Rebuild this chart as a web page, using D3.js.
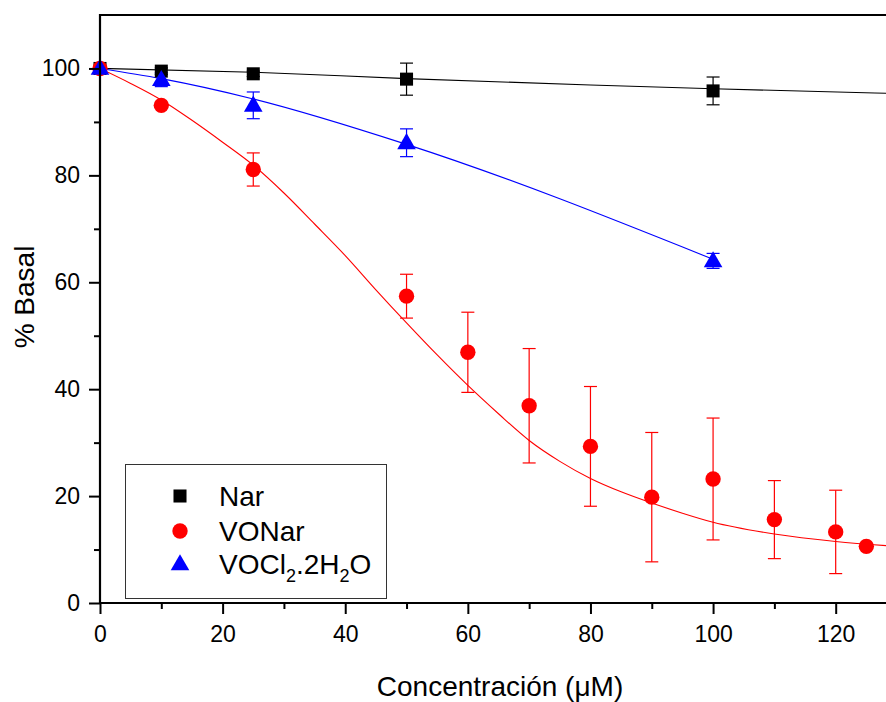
<!DOCTYPE html>
<html>
<head>
<meta charset="utf-8">
<script src="https://cdn.jsdelivr.net/npm/d3@7"></script>
<style>
  body { margin: 0; background: #fff; }
  svg { display: block; font-family: Arial, "Liberation Sans", sans-serif; }
</style>
</head>
<body>
<svg id="chart" width="886" height="702"></svg>
<script>
// ---- data ----
const narX = [0, 10, 25, 50, 100];
const narY = [100, 99.5, 99, 98, 95.8];
const narErr = [0, 0.6, 0.5, 3.0, 2.6];

const voNarX = [0, 10, 25, 50, 60, 70, 80, 90, 100, 110, 120, 125];
const voNarY = [100, 93.1, 81.1, 57.4, 46.9, 36.9, 29.3, 19.8, 23.2, 15.6, 13.3, 10.6];
const voNarErr = [0, 0, 3.1, 4.1, 7.5, 10.7, 11.2, 12.1, 11.4, 7.3, 7.8, 0];

const voclX = [0, 10, 25, 50, 100];
const voclY = [100, 97.9, 93.1, 86.1, 64.0];
const voclErr = [0, 1.3, 2.5, 2.6, 1.4];

// fitted curves
const narFitX = [0, 25, 50, 80, 100, 130];
const narFitY = [100, 99.3, 98.1, 96.9, 96.2, 95.3];
const voNarFitX = [0, 5, 10, 15, 20, 25, 30, 35, 40, 45, 50, 55, 60, 65, 70, 75, 80, 85, 90, 95, 100, 110, 120, 130];
const voNarFitY = [100, 97.2, 94.1, 90.3, 86.2, 81.9, 76.7, 70.9, 65, 58.6, 52.4, 46.4, 40.7, 35.4, 30.4, 26.5, 23.3, 20.8, 18.7, 16.8, 15.1, 12.9, 11.5, 10.6];
const voclFitX = [0, 10, 25, 50, 100];
const voclFitY = [100, 98.1, 94.3, 85.8, 64.3];

const xTicks = [0, 20, 40, 60, 80, 100, 120];
const xMinor = [10, 30, 50, 70, 90, 110, 130];
const yTicks = [0, 20, 40, 60, 80, 100];
const yMinor = [10, 30, 50, 70, 90];

const legendNames = ["Nar", "VONar", "VOCl2.2H2O"];
const colors = ["#000000", "#ff0000", "#0000ff"];

// ---- layout ----
const svg = d3.select("#chart");
const L = 100, R = 897, T = 15, B = 603;
const x = d3.scaleLinear().domain([0, 130]).range([L, R]);
const y = d3.scaleLinear().domain([0, 110]).range([B, T]);

const zip = (xs, ys, es) => xs.map((v, i) => ({x: v, y: ys[i], e: es ? es[i] : 0}));
const nar = zip(narX, narY, narErr);
const vonar = zip(voNarX, voNarY, voNarErr);
const vocl = zip(voclX, voclY, voclErr);

const plot = svg.append("g");
svg.append("defs").append("clipPath").attr("id", "clip")
  .append("rect").attr("x", L).attr("y", T).attr("width", R - L).attr("height", B - T);

const line = d3.line().x(d => x(d.x)).y(d => y(d.y)).curve(d3.curveMonotoneX);

// curves
const curves = [[narFitX, narFitY, colors[0]], [voNarFitX, voNarFitY, colors[1]], [voclFitX, voclFitY, colors[2]]];
curves.forEach(([xs, ys, c]) => {
  plot.append("path").datum(zip(xs, ys))
    .attr("clip-path", "url(#clip)")
    .attr("d", line).attr("fill", "none").attr("stroke", c).attr("stroke-width", 1.1);
});

// error bars
function errBars(data, c) {
  const g = plot.append("g").attr("stroke", c).attr("stroke-width", 1.2).attr("fill", "none");
  data.filter(d => d.e > 0).forEach(d => {
    const cx = x(d.x), y1 = y(d.y + d.e), y2 = y(d.y - d.e);
    g.append("line").attr("x1", cx).attr("x2", cx).attr("y1", y1).attr("y2", y2);
    g.append("line").attr("x1", cx - 6.5).attr("x2", cx + 6.5).attr("y1", y1).attr("y2", y1);
    g.append("line").attr("x1", cx - 6.5).attr("x2", cx + 6.5).attr("y1", y2).attr("y2", y2);
  });
}
errBars(nar, colors[0]);
errBars(vonar, colors[1]);
errBars(vocl, colors[2]);

// markers
const sq = d3.symbol().type(d3.symbolSquare).size(170);
const ci = d3.symbol().type(d3.symbolCircle).size(185);
const tr = d3.symbol().type(d3.symbolTriangle).size(150);
const symbols = [sq, ci, tr];

plot.append("g").selectAll("path").data(nar).join("path")
  .attr("d", sq).attr("transform", d => `translate(${x(d.x)},${y(d.y)})`).attr("fill", colors[0]);
plot.append("g").selectAll("path").data(vonar).join("path")
  .attr("d", ci).attr("transform", d => `translate(${x(d.x)},${y(d.y)})`).attr("fill", colors[1]);
plot.append("g").selectAll("path").data(vocl).join("path")
  .attr("d", tr).attr("transform", d => `translate(${x(d.x)},${y(d.y) + 1})`).attr("fill", colors[2]);

// axes
const fs = "23px";
const xAxis = svg.append("g").attr("transform", `translate(0,${B})`)
  .call(d3.axisBottom(x).tickValues(xTicks).tickSize(11).tickPadding(12).tickFormat(d3.format("d")));
const xAxisMinor = svg.append("g").attr("transform", `translate(0,${B})`)
  .call(d3.axisBottom(x).tickValues(xMinor).tickSize(6).tickFormat(""));
const yAxis = svg.append("g").attr("transform", `translate(${L},0)`)
  .call(d3.axisLeft(y).tickValues(yTicks).tickSize(11).tickPadding(9).tickFormat(d3.format("d")));
const yAxisMinor = svg.append("g").attr("transform", `translate(${L},0)`)
  .call(d3.axisLeft(y).tickValues(yMinor).tickSize(6).tickFormat(""));
[xAxis, xAxisMinor, yAxis, yAxisMinor].forEach(g => {
  g.select(".domain").remove();
  g.selectAll(".tick line").attr("stroke", "#000").attr("stroke-width", 2);
  g.selectAll("text").attr("font-size", fs).attr("fill", "#000").attr("font-family", "Arial, 'Liberation Sans', sans-serif");
});
// frame lines (left, bottom, top)
svg.append("line").attr("x1", L).attr("x2", L).attr("y1", T - 1).attr("y2", B + 1).attr("stroke", "#000").attr("stroke-width", 2.2);
svg.append("line").attr("x1", L - 1).attr("x2", R).attr("y1", B).attr("y2", B).attr("stroke", "#000").attr("stroke-width", 2.2);
svg.append("line").attr("x1", L - 1).attr("x2", R).attr("y1", T).attr("y2", T).attr("stroke", "#000").attr("stroke-width", 2.2);

// axis titles
svg.append("text").attr("x", 500).attr("y", 696).attr("text-anchor", "middle")
  .attr("font-size", "28px").attr("fill", "#000").text("Concentración (μM)");
svg.append("text").attr("transform", "translate(34,297) rotate(-90)").attr("text-anchor", "middle")
  .attr("font-size", "28px").attr("fill", "#000").text("% Basal");

// legend
const lg = svg.append("g");
lg.append("rect").attr("x", 125.5).attr("y", 464.5).attr("width", 261).attr("height", 134)
  .attr("fill", "#fff").attr("stroke", "#333").attr("stroke-width", 1);
const rowsY = [496, 531, 564];
legendNames.forEach((name, i) => {
  lg.append("path").attr("d", symbols[i]).attr("transform", `translate(180,${rowsY[i] + (i === 2 ? 1 : 0)})`).attr("fill", colors[i]);
  const t = lg.append("text").attr("x", 219).attr("y", rowsY[i] + 10).attr("font-size", "28px").attr("fill", "#000");
  if (name === "VOCl2.2H2O") {
    t.append("tspan").text("VOCl");
    t.append("tspan").attr("font-size", "18px").attr("dy", 8).text("2");
    t.append("tspan").attr("dy", -8).text(".2H");
    t.append("tspan").attr("font-size", "18px").attr("dy", 8).text("2");
    t.append("tspan").attr("dy", -8).text("O");
  } else {
    t.text(name);
  }
});
</script>
</body>
</html>
